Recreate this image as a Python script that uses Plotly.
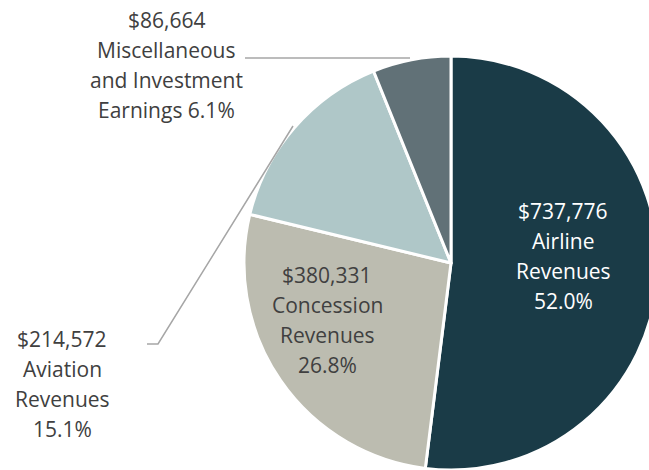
import plotly.graph_objects as go

# figure is a little larger than the 649x470 window so the pie can run past the edges
W, H = 672, 482

categories = ["Airline Revenues", "Concession Revenues", "Aviation Revenues",
              "Miscellaneous and Investment Earnings"]
values = [737776, 380331, 214572, 86664]
percents = ["52.0%", "26.8%", "15.1%", "6.1%"]
colors = ["#1a3b47", "#bcbcb0", "#afc7c8", "#617177"]

# label lines for each slice
label_lines = [
    ["${:,}".format(values[0]), "Airline", "Revenues", percents[0]],
    ["${:,}".format(values[1]), "Concession", "Revenues", percents[1]],
    ["${:,}".format(values[2]), "Aviation", "Revenues", percents[2]],
    ["${:,}".format(values[3]), "Miscellaneous", "and Investment", "Earnings " + percents[3]],
]
label_color = ["#ffffff", "#404040", "#404040", "#404040"]
# pixel anchor (center x, first line center y) for label blocks
label_pos = [(563, 211), (327, 275), (62, 339), (166, 20)]
line_gap = 30

CX, CY, R = 451, 263, 207


def px(x):
    return x / W


def py(y):
    return 1 - y / H


fig = go.Figure(go.Pie(
    labels=categories,
    values=values,
    sort=False,
    direction="clockwise",
    rotation=0,
    marker=dict(colors=colors, line=dict(color="#ffffff", width=3)),
    textinfo="none",
    hoverinfo="skip",
    domain=dict(x=[px(CX - R), px(CX + R)], y=[py(CY + R), py(CY - R)]),
    showlegend=False,
))

annotations = []
for lines, (cx, cy), col in zip(label_lines, label_pos, label_color):
    for i, t in enumerate(lines):
        annotations.append(dict(
            x=px(cx), y=py(cy + i * line_gap), xref="paper", yref="paper",
            text=t, showarrow=False, xanchor="center", yanchor="middle",
            font=dict(family="Open Sans", size=21, color=col),
        ))

line_style = dict(color="#a6a6a6", width=1.5)
shapes = [
    dict(type="line", xref="paper", yref="paper",
         x0=px(245), y0=py(58), x1=px(410), y1=py(58), line=line_style),
    dict(type="path", xref="paper", yref="paper",
         path="M {} {} L {} {} L {} {}".format(px(147), py(344), px(158), py(344), px(293), py(126)),
         line=line_style),
]

fig.update_layout(
    width=W, height=H,
    margin=dict(l=0, r=0, t=0, b=0),
    paper_bgcolor="#ffffff",
    plot_bgcolor="#ffffff",
    annotations=annotations,
    shapes=shapes,
)

fig.write_html(
    "out.html",
    config={"displayModeBar": False},
    post_script=(
        "document.body.style.margin='0';"
        "document.body.style.overflow='hidden';"
        "document.documentElement.style.overflow='hidden';"
    ),
)
